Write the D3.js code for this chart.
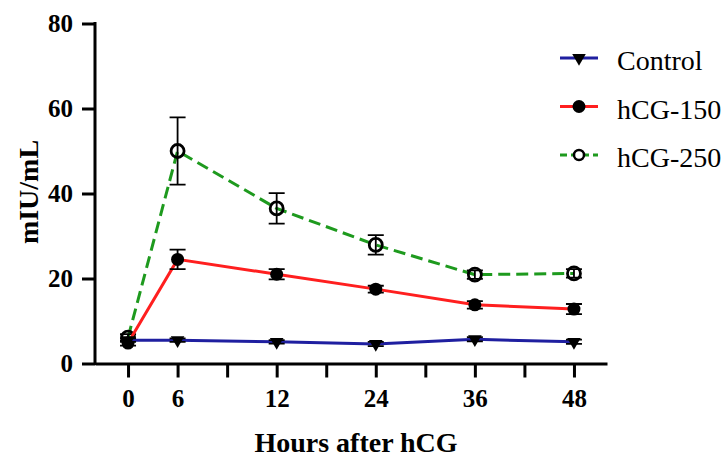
<!DOCTYPE html>
<html>
<head>
<meta charset="utf-8">
<script src="https://cdn.jsdelivr.net/npm/d3@7"></script>
<style>
  body { margin: 0; background: #fff; }
  svg { display: block; }
</style>
</head>
<body>
<div id="chart"></div>
<script>
var w = 727;
var h = 459;

// data
var hours = [0, 6, 12, 24, 36, 48];
var tickLabels = ["0", "6", "", "12", "", "24", "", "36", "", "48"];
var slot = [0, 1, 3, 5, 7, 9]; // tick slot used by each hour
var seriesNames = ["Control", "hCG-150", "hCG-250"];
var controlMean = [5.5, 5.5, 5.1, 4.6, 5.7, 5.1];
var controlErr = [0.4, 0.4, 0.4, 0.5, 0.5, 0.5];
var hcg150Mean = [4.8, 24.5, 21.0, 17.5, 13.8, 12.8];
var hcg150Err = [0.6, 2.3, 1.2, 0.8, 0.9, 1.2];
var hcg250Mean = [6.1, 50.0, 36.5, 27.9, 20.9, 21.2];
var hcg250Err = [0.8, 7.9, 3.6, 2.3, 1.0, 1.0];
var yTicks = [0, 20, 40, 60, 80];

var series = [
    { name: "hCG-250", mean: hcg250Mean, err: hcg250Err, color: "#1e9a1e", dash: "12,6", marker: "open" },
    { name: "hCG-150", mean: hcg150Mean, err: hcg150Err, color: "#ff1f1f", dash: null, marker: "dot" },
    { name: "Control", mean: controlMean, err: controlErr, color: "#1f1fa0", dash: null, marker: "tri" }
];

var svg = d3.select("#chart")
            .append("svg")
            .attr("width", w)
            .attr("height", h);

var font = "'Liberation Serif', 'Times New Roman', serif";

// scales
var xScale = d3.scaleLinear()
    .domain([-2 / 3, 9 + 2 / 3])
    .range([95, 607]);
var yScale = d3.scaleLinear()
    .domain([0, 80])
    .range([363.5, 23.5]);

// AXES
var xAxis = d3.axisBottom(xScale)
    .tickValues(d3.range(tickLabels.length))
    .tickFormat((d) => tickLabels[d])
    .tickSize(14)
    .tickSizeOuter(0)
    .tickPadding(12);
var yAxis = d3.axisLeft(yScale)
    .tickValues(yTicks)
    .tickSize(13)
    .tickSizeOuter(0)
    .tickPadding(9);

var gx = svg.append("g")
    .attr("transform", "translate(0," + yScale(0) + ")")
    .call(xAxis);
var gy = svg.append("g")
    .attr("transform", "translate(" + xScale.range()[0] + ",0)")
    .call(yAxis);

[gx, gy].forEach(function(g) {
    g.selectAll("path, line").attr("stroke", "#000").attr("stroke-width", 3);
    g.selectAll("text")
        .attr("fill", "#000")
        .style("font-family", font)
        .style("font-weight", "bold")
        .style("font-size", "25px");
});
gy.select(".domain").attr("d", "M0," + (yScale(80) - 1.5) + "V" + (yScale(0) + 1.5));

// axis titles
svg.append("text")
    .attr("x", 356)
    .attr("y", 452)
    .attr("text-anchor", "middle")
    .style("font-family", font)
    .style("font-weight", "bold")
    .style("font-size", "28px")
    .text("Hours after hCG");
svg.append("text")
    .attr("transform", "translate(38,192) rotate(-90)")
    .attr("text-anchor", "middle")
    .style("font-family", font)
    .style("font-weight", "bold")
    .style("font-size", "28px")
    .text("mIU/mL");

var line = d3.line()
    .x((d, i) => xScale(slot[i]))
    .y((d) => yScale(d));

function drawMarker(g, type) {
    if (type === "dot") {
        g.append("circle").attr("r", 6.5).attr("fill", "#000");
    } else if (type === "open") {
        g.append("circle").attr("r", 6.5).attr("fill", "none")
            .attr("stroke", "#000").attr("stroke-width", 2.8);
    } else {
        g.append("path")
            .attr("d", d3.symbol().type(d3.symbolTriangle).size(80))
            .attr("transform", "rotate(180)")
            .attr("fill", "#000");
    }
}

series.forEach(function(s) {
    svg.append("path")
        .datum(s.mean)
        .attr("fill", "none")
        .attr("stroke", s.color)
        .attr("stroke-width", 3)
        .attr("stroke-dasharray", s.dash)
        .attr("d", line);

    // error bars
    var eb = svg.append("g");
    s.mean.forEach(function(m, i) {
        var x = xScale(slot[i]);
        var y0 = yScale(m - s.err[i]);
        var y1 = yScale(m + s.err[i]);
        eb.append("path")
            .attr("d", "M" + x + "," + y0 + "V" + y1 +
                       "M" + (x - 8) + "," + y0 + "H" + (x + 8) +
                       "M" + (x - 8) + "," + y1 + "H" + (x + 8))
            .attr("stroke", "#000")
            .attr("stroke-width", 1.8)
            .attr("fill", "none");
    });

    s.mean.forEach(function(m, i) {
        var g = svg.append("g")
            .attr("transform", "translate(" + xScale(slot[i]) + "," + yScale(m) + ")");
        drawMarker(g, s.marker);
    });
});

// legend
var legend = svg.append("g");
seriesNames.forEach(function(name, i) {
    var s = series.find((d) => d.name === name);
    var ly = 58 + i * 48.5;
    legend.append("line")
        .attr("x1", 560).attr("x2", 598)
        .attr("y1", ly).attr("y2", ly)
        .attr("stroke", s.color)
        .attr("stroke-width", 3)
        .attr("stroke-dasharray", s.dash ? "7,4" : null);
    var g = legend.append("g").attr("transform", "translate(579," + ly + ")");
    if (s.marker === "open") {
        g.append("circle").attr("r", 5).attr("fill", "#fff")
            .attr("stroke", "#000").attr("stroke-width", 2.5);
    } else {
        drawMarker(g, s.marker);
    }
    legend.append("text")
        .attr("x", 617)
        .attr("y", ly + 12)
        .style("font-family", font)
        .style("font-size", "28px")
        .attr("fill", "#000")
        .text(name);
});
</script>
</body>
</html>
